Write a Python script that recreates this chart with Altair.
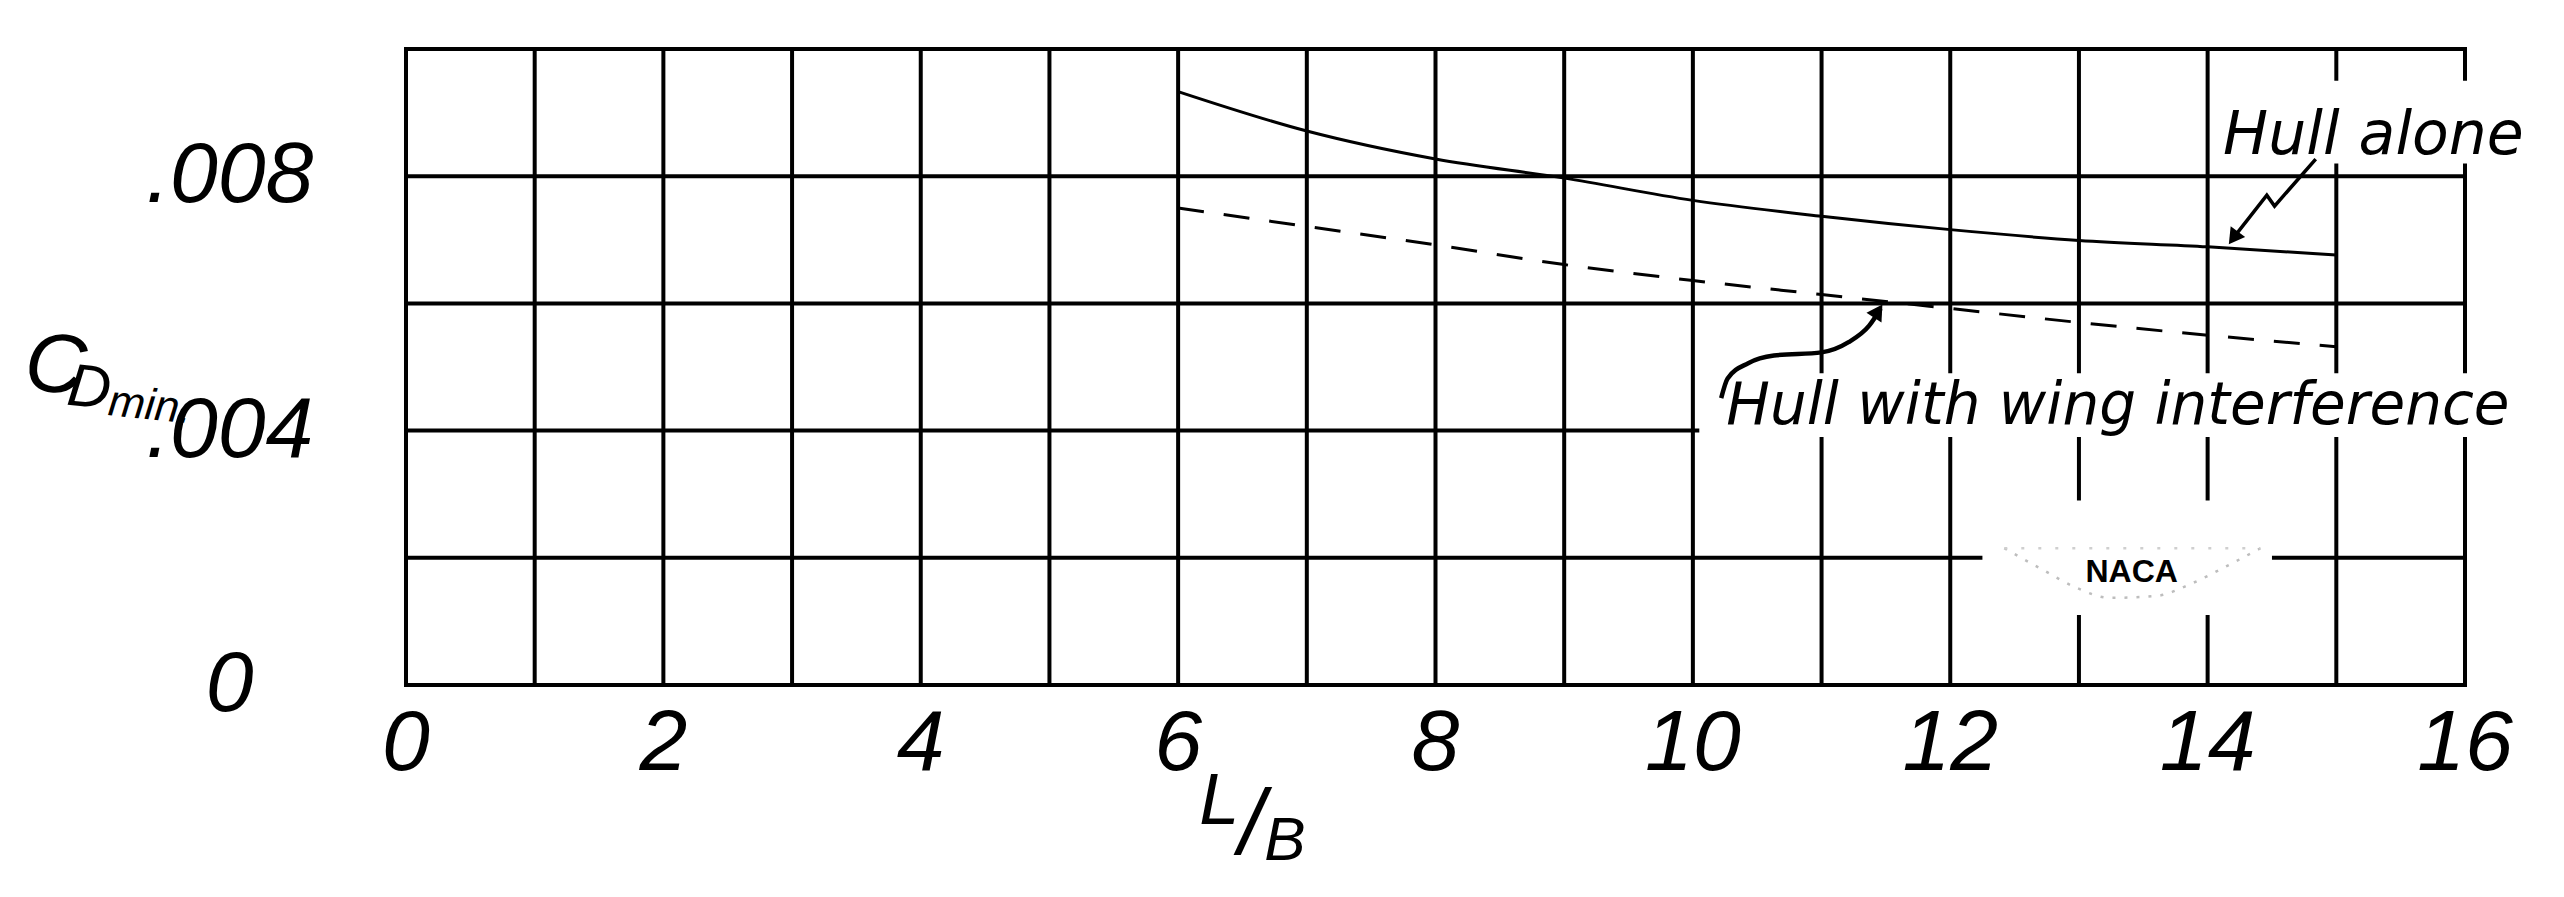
import altair as alt
import pandas as pd

# ---------------- data ----------------
lb_values = [6, 7, 8, 9, 10, 11, 12, 13, 14, 15]
hull_alone = [0.00933, 0.00871, 0.00827, 0.00797, 0.00762, 0.00737, 0.00716, 0.00699, 0.00689, 0.00676]
hull_wing = [0.00750, 0.00721, 0.00692, 0.00661, 0.00636, 0.00614, 0.00592, 0.00570, 0.00550, 0.00532]

x_tick_values = list(range(17))
x_tick_labels = ["0", "", "2", "", "4", "", "6", "", "8", "", "10", "", "12", "", "14", "", "16"]
y_tick_values = [0, 0.002, 0.004, 0.006, 0.008, 0.010]
y_tick_labels = ["0", "", ".004", "", ".008", ""]

# annotation labels (data coordinates)
note_text = ["Hull alone", "Hull with wing interference"]
note_x = [14.12, 10.26]
note_y = [0.00835, 0.00410]
note_size = [60, 58]

naca_text = ["NACA"]
naca_x = [13.41]
naca_y = [0.00178]

# faint wing outline of the NACA stamp
wing_x = [12.42, 12.72, 12.98, 13.24, 13.60, 13.88, 14.12, 14.41]
wing_y = [0.00215, 0.00181, 0.00153, 0.00137, 0.00140, 0.00160, 0.00184, 0.00215]

ytitle_text = ["C", "D", "min."]
ytitle_x = [-2.96, -2.63, -2.31]
ytitle_y = [0.00505, 0.00469, 0.00445]
ytitle_size = [84, 60, 44]

xtitle_text = ["L", "/", "B"]
xtitle_x = [6.32, 6.57, 6.83]
xtitle_y = [-0.00184, -0.00222, -0.00245]
xtitle_size = [72, 92, 62]

# white label backgrounds
box_x = [14.10, 10.05, 12.25]
box_x2 = [16.70, 16.70, 14.50]
box_y = [0.00820, 0.00390, 0.00110]
box_y2 = [0.00950, 0.00490, 0.00290]

# leader arrows
arrow1_x = [14.84, 14.52, 14.46, 14.20]
arrow1_y = [0.00827, 0.00753, 0.00770, 0.00703]
arrow2_x = [10.22, 10.27, 10.43, 10.63, 11.00, 11.21, 11.37, 11.46]
arrow2_y = [0.00451, 0.00482, 0.00506, 0.00518, 0.00523, 0.00539, 0.00565, 0.00592]
head_x = [14.20, 11.44]
head_y = [0.00703, 0.00588]
head_angle = [216, 33]

# tick label placement (data units, outside the plot)
x_label_y = -0.00093
y_label_x = -1.37

# ---------------- chart ----------------
TICK_FONT = "Liberation Sans"
NOTE_FONT = "DejaVu Sans"

X_MIN, X_MAX = x_tick_values[0], x_tick_values[-1]
Y_MIN, Y_MAX = y_tick_values[0], y_tick_values[-1]
xs = alt.Scale(domain=[X_MIN, X_MAX], nice=False, zero=False)
ys = alt.Scale(domain=[Y_MIN, Y_MAX], nice=False, zero=False)


def X(field="x"):
    return alt.X(f"{field}:Q", scale=xs, axis=None)


def Y(field="y"):
    return alt.Y(f"{field}:Q", scale=ys, axis=None)


GRID_W = 4

vgrid = alt.Chart(pd.DataFrame({
    "x": x_tick_values, "y": [Y_MIN] * len(x_tick_values), "y2": [Y_MAX] * len(x_tick_values)
})).mark_rule(color="black", strokeWidth=GRID_W, strokeCap="square").encode(x=X(), y=Y(), y2="y2:Q")

hgrid = alt.Chart(pd.DataFrame({
    "y": y_tick_values, "x": [X_MIN] * len(y_tick_values), "x2": [X_MAX] * len(y_tick_values)
})).mark_rule(color="black", strokeWidth=GRID_W, strokeCap="square").encode(y=Y(), x=X(), x2="x2:Q")

xlabels = alt.Chart(pd.DataFrame({
    "x": x_tick_values, "y": [x_label_y] * len(x_tick_values), "t": x_tick_labels
})).mark_text(
    align="center", baseline="middle", font=TICK_FONT, fontStyle="italic", fontSize=86, color="black"
).encode(x=X(), y=Y(), text="t:N")

ylabels = alt.Chart(pd.DataFrame({
    "y": y_tick_values, "x": [y_label_x] * len(y_tick_values), "t": y_tick_labels
})).mark_text(
    align="center", baseline="middle", font=TICK_FONT, fontStyle="italic", fontSize=86, color="black"
).encode(x=X(), y=Y(), text="t:N")

solid = alt.Chart(pd.DataFrame({"x": lb_values, "y": hull_alone})).mark_line(
    color="black", strokeWidth=3, interpolate="monotone"
).encode(x=X(), y=Y())

dashed = alt.Chart(pd.DataFrame({"x": lb_values, "y": hull_wing})).mark_line(
    color="black", strokeWidth=3, strokeDash=[26, 20], interpolate="monotone"
).encode(x=X(), y=Y())

boxes = alt.Chart(pd.DataFrame({"x": box_x, "x2": box_x2, "y": box_y, "y2": box_y2})).mark_rect(
    color="white"
).encode(x=X(), x2="x2:Q", y=Y(), y2="y2:Q")

wing = alt.Chart(pd.DataFrame({"x": wing_x, "y": wing_y})).mark_line(
    color="#bdbdbd", strokeWidth=2.5, strokeDash=[3, 9], interpolate="monotone"
).encode(x=X(), y=Y())

wing_top = alt.Chart(pd.DataFrame({"x": [wing_x[0]], "x2": [wing_x[-1]], "y": [wing_y[0]]})).mark_rule(
    color="#cfcfcf", strokeWidth=2.5, strokeDash=[3, 14]
).encode(x=X(), x2="x2:Q", y=Y())

notes = alt.Chart(pd.DataFrame({"x": note_x, "y": note_y, "t": note_text, "s": note_size})).mark_text(
    align="left", baseline="alphabetic", font=NOTE_FONT, fontStyle="italic", color="black"
).encode(x=X(), y=Y(), text="t:N", size=alt.Size("s:Q", scale=None, legend=None))

naca = alt.Chart(pd.DataFrame({"x": naca_x, "y": naca_y, "t": naca_text})).mark_text(
    align="center", baseline="middle", font="Liberation Sans", fontWeight="bold", fontSize=32, color="black"
).encode(x=X(), y=Y(), text="t:N")

ytitle = alt.Chart(pd.DataFrame({"x": ytitle_x, "y": ytitle_y, "t": ytitle_text, "s": ytitle_size})).mark_text(
    align="left", baseline="middle", font=TICK_FONT, fontStyle="italic", color="black", angle=6
).encode(x=X(), y=Y(), text="t:N", size=alt.Size("s:Q", scale=None, legend=None))

xtitle = alt.Chart(pd.DataFrame({"x": xtitle_x, "y": xtitle_y, "t": xtitle_text, "s": xtitle_size})).mark_text(
    align="center", baseline="middle", font=TICK_FONT, fontStyle="italic", color="black"
).encode(x=X(), y=Y(), text="t:N", size=alt.Size("s:Q", scale=None, legend=None))

arrow1 = alt.Chart(pd.DataFrame({"x": arrow1_x, "y": arrow1_y, "o": list(range(len(arrow1_x)))})).mark_line(
    color="black", strokeWidth=3.5
).encode(x=X(), y=Y(), order="o:Q")

arrow2 = alt.Chart(pd.DataFrame({"x": arrow2_x, "y": arrow2_y, "o": list(range(len(arrow2_x)))})).mark_line(
    color="black", strokeWidth=4.5, interpolate="monotone"
).encode(x=X(), y=Y(), order="o:Q")

heads = alt.Chart(pd.DataFrame({"x": head_x, "y": head_y, "a": head_angle})).mark_point(
    shape="triangle-up", filled=True, color="black", size=320, opacity=1
).encode(x=X(), y=Y(), angle=alt.Angle("a:Q", scale=None))

chart = alt.layer(
    vgrid, hgrid, boxes, wing, wing_top, solid, dashed, xlabels, ylabels, notes, naca,
    ytitle, xtitle, arrow1, arrow2, heads
).properties(
    width=2059,
    height=636,
    autosize=alt.AutoSizeParams(type="none"),
    padding={"left": 398, "top": 41, "right": 90, "bottom": 200},
    background="white",
).configure_view(stroke=None)

chart.save("out.html", embed_options={"renderer": "svg", "actions": False})
